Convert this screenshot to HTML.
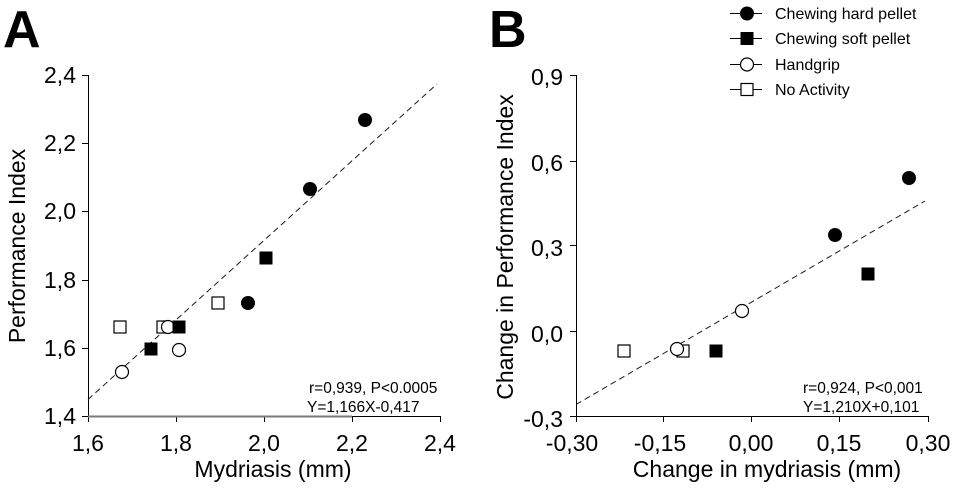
<!DOCTYPE html>
<html>
<head>
<meta charset="utf-8">
<style>
  html, body { margin: 0; padding: 0; background: #ffffff; }
  svg { display: block; }
  text { font-family: "Liberation Sans", Arial, sans-serif; fill: #000; }
</style>
</head>
<body>
<svg width="954" height="488" viewBox="0 0 954 488" xmlns="http://www.w3.org/2000/svg">
  <rect x="0" y="0" width="954" height="488" fill="#ffffff"/>

  <!-- Panel letters -->
  <text x="3" y="47" font-size="52" font-weight="bold">A</text>
  <text x="489" y="47" font-size="52" font-weight="bold">B</text>

  <!-- ================= PANEL A ================= -->
  <g stroke="#000" stroke-width="1" fill="none" shape-rendering="crispEdges">
    <line x1="88.5" y1="75" x2="88.5" y2="416"/>
    <line x1="82" y1="75.5" x2="88" y2="75.5"/>
    <line x1="82" y1="143.5" x2="88" y2="143.5"/>
    <line x1="82" y1="211.5" x2="88" y2="211.5"/>
    <line x1="82" y1="280.5" x2="88" y2="280.5"/>
    <line x1="82" y1="348.5" x2="88" y2="348.5"/>
    <line x1="82" y1="416.5" x2="88" y2="416.5"/>
    <line x1="352" y1="416.5" x2="441" y2="416.5"/>
    <line x1="88.5" y1="416" x2="88.5" y2="422"/>
    <line x1="176.5" y1="416" x2="176.5" y2="422"/>
    <line x1="264.5" y1="416" x2="264.5" y2="422"/>
    <line x1="352.5" y1="416" x2="352.5" y2="422"/>
    <line x1="440.5" y1="416" x2="440.5" y2="422"/>
  </g>
  <line x1="88" y1="416.5" x2="352" y2="416.5" stroke="#7a7a7a" stroke-width="2"/>

  <g font-size="23" text-anchor="end">
    <text x="76" y="83">2,4</text>
    <text x="76" y="151">2,2</text>
    <text x="76" y="219">2,0</text>
    <text x="76" y="288">1,8</text>
    <text x="76" y="356">1,6</text>
    <text x="76" y="424">1,4</text>
  </g>
  <g font-size="23" text-anchor="middle">
    <text x="88" y="451">1,6</text>
    <text x="176" y="451">1,8</text>
    <text x="264" y="451">2,0</text>
    <text x="352" y="451">2,2</text>
    <text x="440" y="451">2,4</text>
    <text x="273" y="477">Mydriasis (mm)</text>
  </g>
  <text transform="translate(25,246) rotate(-90)" font-size="23" text-anchor="middle">Performance Index</text>

  <!-- regression A -->
  <line x1="88" y1="399.5" x2="437" y2="84" stroke="#1a1a1a" stroke-width="1" stroke-dasharray="6,4"/>

  <!-- points A -->
  <g stroke="#000" stroke-width="1.2" fill="#fff">
    <rect x="114" y="321" width="12" height="12"/>
    <rect x="157" y="321" width="12" height="12"/>
    <rect x="212" y="297" width="12" height="12"/>
    <circle cx="168" cy="327" r="6.5"/>
    <circle cx="179" cy="350" r="6.5"/>
    <circle cx="122" cy="372" r="6.5"/>
  </g>
  <g fill="#000">
    <rect x="259.5" y="251.5" width="13" height="13"/>
    <rect x="172.5" y="320.5" width="13" height="13"/>
    <rect x="144.5" y="342.5" width="13" height="13"/>
    <circle cx="365" cy="120" r="7"/>
    <circle cx="310" cy="189" r="7"/>
    <circle cx="248" cy="303" r="7"/>
  </g>

  <g font-size="15.5">
    <text x="309" y="393">r=0,939, P&lt;0.0005</text>
    <text x="307" y="412">Y=1,166X-0,417</text>
  </g>

  <!-- ================= PANEL B ================= -->
  <g stroke="#000" stroke-width="1" fill="none" shape-rendering="crispEdges">
    <line x1="576.5" y1="75" x2="576.5" y2="416"/>
    <line x1="570" y1="75.5" x2="576" y2="75.5"/>
    <line x1="570" y1="161.5" x2="576" y2="161.5"/>
    <line x1="570" y1="245.5" x2="576" y2="245.5"/>
    <line x1="570" y1="331.5" x2="576" y2="331.5"/>
    <line x1="570" y1="416.5" x2="576" y2="416.5"/>
    <line x1="576" y1="416.5" x2="929" y2="416.5"/>
    <line x1="576.5" y1="416" x2="576.5" y2="422"/>
    <line x1="663.5" y1="416" x2="663.5" y2="422"/>
    <line x1="751.5" y1="416" x2="751.5" y2="422"/>
    <line x1="839.5" y1="416" x2="839.5" y2="422"/>
    <line x1="928.5" y1="416" x2="928.5" y2="422"/>
  </g>

  <g font-size="23" text-anchor="end">
    <text x="563" y="85">0,9</text>
    <text x="563" y="171">0,6</text>
    <text x="563" y="256">0,3</text>
    <text x="563" y="342">0,0</text>
    <text x="563" y="427">-0,3</text>
  </g>
  <g font-size="23" text-anchor="middle">
    <text x="572" y="451">-0,30</text>
    <text x="660" y="451">-0,15</text>
    <text x="751" y="451">0,00</text>
    <text x="839" y="451">0,15</text>
    <text x="928" y="451">0,30</text>
    <text x="767" y="477">Change in mydriasis (mm)</text>
  </g>
  <text transform="translate(513,247) rotate(-90)" font-size="23" text-anchor="middle">Change in Performance Index</text>

  <!-- regression B -->
  <line x1="576" y1="404.5" x2="925" y2="201" stroke="#1a1a1a" stroke-width="1" stroke-dasharray="6,4"/>

  <!-- points B -->
  <g stroke="#000" stroke-width="1.2" fill="#fff">
    <rect x="618" y="345" width="12" height="12"/>
    <rect x="677" y="345" width="12" height="12"/>
    <circle cx="677" cy="349" r="6.5"/>
    <circle cx="742" cy="311" r="6.5"/>
  </g>
  <g fill="#000">
    <rect x="861.5" y="267.5" width="13" height="13"/>
    <rect x="709.5" y="344.5" width="13" height="13"/>
    <circle cx="909" cy="178" r="7"/>
    <circle cx="835" cy="235" r="7"/>
  </g>

  <g font-size="15.5">
    <text x="803" y="393">r=0,924, P&lt;0,001</text>
    <text x="803" y="412">Y=1,210X+0,101</text>
  </g>

  <!-- ================= LEGEND ================= -->
  <g stroke="#000" stroke-width="1">
    <line x1="730" y1="13.5" x2="762" y2="13.5"/>
    <line x1="730" y1="38.5" x2="762" y2="38.5"/>
    <line x1="730" y1="64.5" x2="762" y2="64.5"/>
    <line x1="730" y1="89.5" x2="762" y2="89.5"/>
  </g>
  <circle cx="747" cy="13.5" r="7" fill="#000"/>
  <rect x="740.5" y="32" width="13" height="13" fill="#000"/>
  <circle cx="747" cy="64.5" r="6.5" fill="#fff" stroke="#000" stroke-width="1.2"/>
  <rect x="741" y="83.5" width="12" height="12" fill="#fff" stroke="#000" stroke-width="1.2"/>
  <g font-size="16">
    <text x="775" y="19">Chewing hard pellet</text>
    <text x="775" y="44">Chewing soft pellet</text>
    <text x="775" y="70">Handgrip</text>
    <text x="775" y="95">No Activity</text>
  </g>
</svg>
</body>
</html>
